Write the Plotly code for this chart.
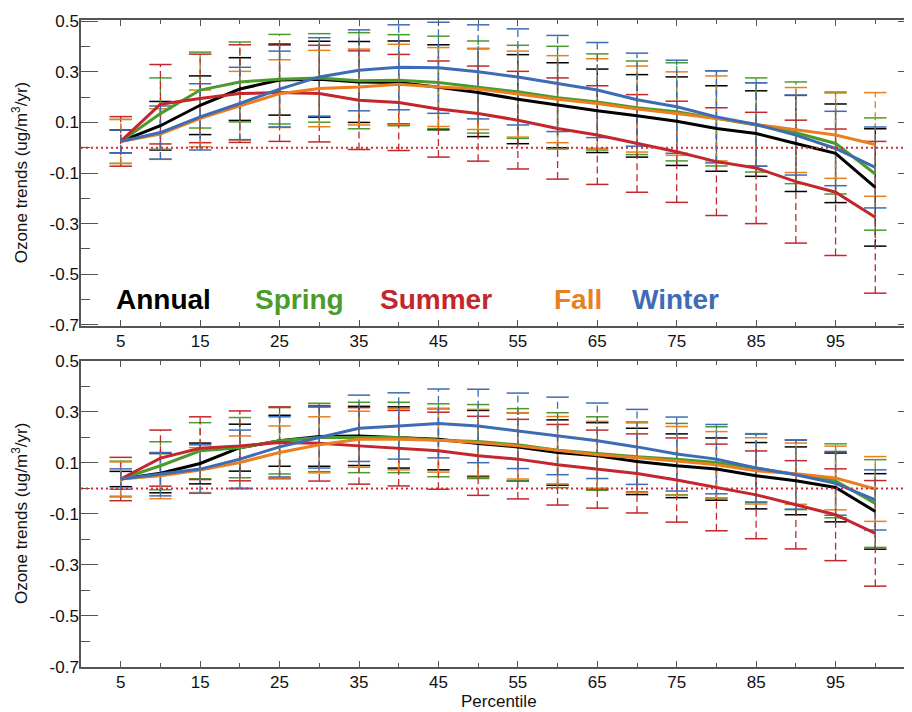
import plotly.graph_objects as go

# ---------------- data ----------------
PERCENTILES = [5, 10, 15, 20, 25, 30, 35, 40, 45, 50, 55, 60, 65, 70, 75, 80, 85, 90, 95, 100]
X_TICKS = [5, 15, 25, 35, 45, 55, 65, 75, 85, 95]
X_MINOR_TICKS = [10, 20, 30, 40, 50, 60, 70, 80, 90, 100]
Y_TICKS = [-0.7, -0.5, -0.3, -0.1, 0.1, 0.3, 0.5]
Y_TICK_TEXT = ["-0.7", "-0.5", "-0.3", "-0.1", "0.1", "0.3", "0.5"]
SEASONS = ["Annual", "Spring", "Summer", "Fall", "Winter"]
COLORS = ["#000000", "#4b9b2c", "#c3262c", "#e97f1f", "#3d6cb5"]

# top panel: trend means and half-widths of uncertainty bars
TOP_ANNUAL = [0.025, 0.087, 0.168, 0.232, 0.268, 0.271, 0.26, 0.258, 0.239, 0.218, 0.192, 0.168, 0.146, 0.126, 0.105, 0.076, 0.056, 0.017, -0.022, -0.157]
TOP_ANNUAL_ERR = [0.045, 0.096, 0.116, 0.124, 0.139, 0.15, 0.16, 0.164, 0.168, 0.174, 0.176, 0.168, 0.165, 0.163, 0.175, 0.169, 0.169, 0.19, 0.195, 0.232]
TOP_SPRING = [0.025, 0.135, 0.228, 0.26, 0.271, 0.276, 0.265, 0.267, 0.258, 0.24, 0.221, 0.198, 0.181, 0.158, 0.142, 0.116, 0.09, 0.059, 0.017, -0.104]
TOP_SPRING_ERR = [0.087, 0.141, 0.15, 0.158, 0.177, 0.175, 0.19, 0.18, 0.183, 0.182, 0.184, 0.203, 0.19, 0.185, 0.194, 0.188, 0.186, 0.201, 0.2, 0.222]
TOP_SUMMER = [0.025, 0.172, 0.195, 0.214, 0.218, 0.214, 0.188, 0.179, 0.153, 0.135, 0.109, 0.076, 0.05, 0.017, -0.016, -0.055, -0.08, -0.134, -0.176, -0.275]
TOP_SUMMER_ERR = [0.098, 0.157, 0.175, 0.193, 0.193, 0.191, 0.195, 0.19, 0.19, 0.188, 0.193, 0.2, 0.195, 0.193, 0.2, 0.213, 0.22, 0.243, 0.25, 0.3]
TOP_FALL = [0.025, 0.054, 0.116, 0.166, 0.214, 0.234, 0.24, 0.251, 0.24, 0.232, 0.212, 0.192, 0.175, 0.153, 0.135, 0.116, 0.092, 0.07, 0.05, 0.013]
TOP_FALL_ERR = [0.087, 0.1, 0.112, 0.136, 0.134, 0.151, 0.15, 0.158, 0.156, 0.16, 0.17, 0.172, 0.177, 0.17, 0.165, 0.168, 0.164, 0.168, 0.171, 0.205]
TOP_WINTER = [0.025, 0.06, 0.122, 0.175, 0.232, 0.28, 0.306, 0.318, 0.316, 0.30, 0.28, 0.254, 0.228, 0.19, 0.162, 0.122, 0.092, 0.05, -0.003, -0.078]
TOP_WINTER_ERR = [0.045, 0.105, 0.131, 0.143, 0.15, 0.155, 0.16, 0.168, 0.18, 0.186, 0.19, 0.19, 0.188, 0.184, 0.184, 0.182, 0.165, 0.158, 0.147, 0.16]

# bottom panel
BOT_ANNUAL = [0.037, 0.06, 0.098, 0.16, 0.187, 0.204, 0.206, 0.2, 0.193, 0.176, 0.163, 0.141, 0.128, 0.106, 0.089, 0.076, 0.05, 0.03, 0.004, -0.09]
BOT_ANNUAL_ERR = [0.03, 0.077, 0.08, 0.092, 0.1, 0.117, 0.116, 0.12, 0.12, 0.13, 0.134, 0.128, 0.13, 0.13, 0.125, 0.122, 0.13, 0.133, 0.135, 0.148]
BOT_SPRING = [0.037, 0.089, 0.148, 0.16, 0.187, 0.2, 0.2, 0.2, 0.189, 0.184, 0.171, 0.15, 0.137, 0.124, 0.115, 0.102, 0.08, 0.054, 0.03, -0.059]
BOT_SPRING_ERR = [0.07, 0.094, 0.11, 0.118, 0.13, 0.134, 0.138, 0.138, 0.143, 0.145, 0.142, 0.147, 0.144, 0.137, 0.14, 0.14, 0.135, 0.137, 0.145, 0.172]
BOT_SUMMER = [0.037, 0.119, 0.158, 0.167, 0.18, 0.177, 0.167, 0.158, 0.148, 0.128, 0.115, 0.093, 0.076, 0.059, 0.033, 0.004, -0.025, -0.064, -0.103, -0.176]
BOT_SUMMER_ERR = [0.085, 0.11, 0.123, 0.137, 0.14, 0.148, 0.15, 0.148, 0.151, 0.155, 0.156, 0.158, 0.153, 0.155, 0.165, 0.17, 0.172, 0.173, 0.18, 0.207]
BOT_FALL = [0.037, 0.05, 0.072, 0.102, 0.141, 0.171, 0.193, 0.193, 0.189, 0.18, 0.167, 0.15, 0.132, 0.12, 0.108, 0.093, 0.069, 0.058, 0.041, -0.002]
BOT_FALL_ERR = [0.067, 0.09, 0.088, 0.104, 0.104, 0.11, 0.11, 0.12, 0.125, 0.13, 0.13, 0.132, 0.131, 0.137, 0.135, 0.13, 0.13, 0.12, 0.125, 0.127]
BOT_WINTER = [0.037, 0.056, 0.076, 0.115, 0.163, 0.2, 0.236, 0.245, 0.255, 0.245, 0.226, 0.206, 0.187, 0.163, 0.135, 0.115, 0.08, 0.054, 0.02, -0.045]
BOT_WINTER_ERR = [0.04, 0.085, 0.095, 0.114, 0.118, 0.12, 0.13, 0.13, 0.135, 0.144, 0.148, 0.152, 0.148, 0.147, 0.145, 0.136, 0.133, 0.135, 0.125, 0.118]

TOP = [(TOP_ANNUAL, TOP_ANNUAL_ERR), (TOP_SPRING, TOP_SPRING_ERR), (TOP_SUMMER, TOP_SUMMER_ERR),
       (TOP_FALL, TOP_FALL_ERR), (TOP_WINTER, TOP_WINTER_ERR)]
BOT = [(BOT_ANNUAL, BOT_ANNUAL_ERR), (BOT_SPRING, BOT_SPRING_ERR), (BOT_SUMMER, BOT_SUMMER_ERR),
       (BOT_FALL, BOT_FALL_ERR), (BOT_WINTER, BOT_WINTER_ERR)]

FONT = "Liberation Sans, Arial, Helvetica, sans-serif"

fig = go.Figure()


def add_panel(series, xa, ya):
    # uncertainty bars (dashed stems + caps)
    for (mean, err), color, name in zip(series, COLORS, SEASONS):
        sx, sy, cx, cy = [], [], [], []
        for p, m, e in zip(PERCENTILES, mean, err):
            sx += [p, p, None]
            sy += [m - e, m + e, None]
            cx += [p, p]
            cy += [m - e, m + e]
        fig.add_trace(go.Scatter(x=sx, y=sy, mode="lines", xaxis=xa, yaxis=ya,
                                 line=dict(color=color, width=1.3, dash="7px,4px"),
                                 showlegend=False, hoverinfo="skip"))
        fig.add_trace(go.Scatter(x=cx, y=cy, mode="markers", xaxis=xa, yaxis=ya,
                                 marker=dict(symbol="line-ew", size=16,
                                             line=dict(color=color, width=1.5)),
                                 showlegend=False, hoverinfo="skip"))
    # trend lines
    for (mean, err), color, name in zip(series, COLORS, SEASONS):
        fig.add_trace(go.Scatter(x=PERCENTILES, y=mean, mode="lines", name=name,
                                 xaxis=xa, yaxis=ya, line=dict(color=color, width=3),
                                 showlegend=False))


add_panel(TOP, "x", "y")
add_panel(BOT, "x2", "y2")

axis_common_x = dict(
    range=[0, 105], tickmode="array", tickvals=X_TICKS, ticktext=[str(v) for v in X_TICKS],
    ticks="inside", ticklen=6, tickwidth=1.2, tickcolor="#555",
    minor=dict(tickvals=X_MINOR_TICKS, ticks="inside", ticklen=4, tickwidth=1.2, tickcolor="#555"),
    showline=True, linecolor="#555", linewidth=1.5, mirror="ticks",
    showgrid=False, zeroline=False, tickfont=dict(size=17, color="#111", family=FONT),
    ticklabelstandoff=-1,
)
axis_common_y = dict(
    tickmode="array", tickvals=Y_TICKS, ticktext=Y_TICK_TEXT,
    ticks="inside", ticklen=17, tickwidth=1.2, tickcolor="#555",
    minor=dict(dtick=0.1, tick0=0, ticks="inside", ticklen=9, tickwidth=1.2, tickcolor="#555"),
    showline=True, linecolor="#555", linewidth=1.5, mirror="ticks",
    showgrid=False, zeroline=False, tickfont=dict(size=17, color="#111", family=FONT),
    ticklabelstandoff=-3,
)

# page body adds an 8px offset; margins compensate so the plot sits where the reference has it
fig.update_layout(
    width=912, height=712,
    margin=dict(l=73, r=3, t=10, b=53),
    plot_bgcolor="white", paper_bgcolor="white",
    font=dict(family=FONT, size=17, color="#111"),
    xaxis=dict(anchor="y", domain=[0, 1], **axis_common_x),
    yaxis=dict(anchor="x", domain=[0.52696, 1], range=[-0.705, 0.505], **axis_common_y),
    xaxis2=dict(anchor="y2", domain=[0, 1], **axis_common_x),
    yaxis2=dict(anchor="x2", domain=[0, 0.47304], range=[-0.7, 0.5], **axis_common_y),
    showlegend=False,
)

shapes = []
for xr, yr in [("x", "y"), ("x2", "y2")]:
    shapes.append(dict(type="line", xref=f"{xr} domain", yref=yr, x0=0, x1=1, y0=0, y1=0,
                       line=dict(color="#d9292e", width=2, dash="2px,3px"), layer="above"))
fig.update_layout(shapes=shapes)

annotations = []
LEGEND_X = [4.2, 21.7, 37.4, 59.3, 69.1]
for name, color, lx in zip(SEASONS, COLORS, LEGEND_X):
    annotations.append(dict(x=lx, y=-0.6, xref="x", yref="y", text=f"<b>{name}</b>",
                            showarrow=False, xanchor="left", yanchor="middle",
                            font=dict(size=28, color=color, family=FONT)))
for yr in ["y domain", "y2 domain"]:
    annotations.append(dict(x=-0.073, y=0.5, xref="paper", yref=yr,
                            text="Ozone trends (ug/m<sup>3</sup>/yr)", textangle=-90,
                            showarrow=False, xanchor="center", yanchor="middle",
                            font=dict(size=17, color="#111", family=FONT)))
annotations.append(dict(x=0.501, y=-0.053, xref="paper", yref="paper", text="Percentile",
                        showarrow=False, xanchor="center", yanchor="middle",
                        font=dict(size=17, color="#111", family=FONT)))
fig.update_layout(annotations=annotations)

fig.write_html("out.html")
